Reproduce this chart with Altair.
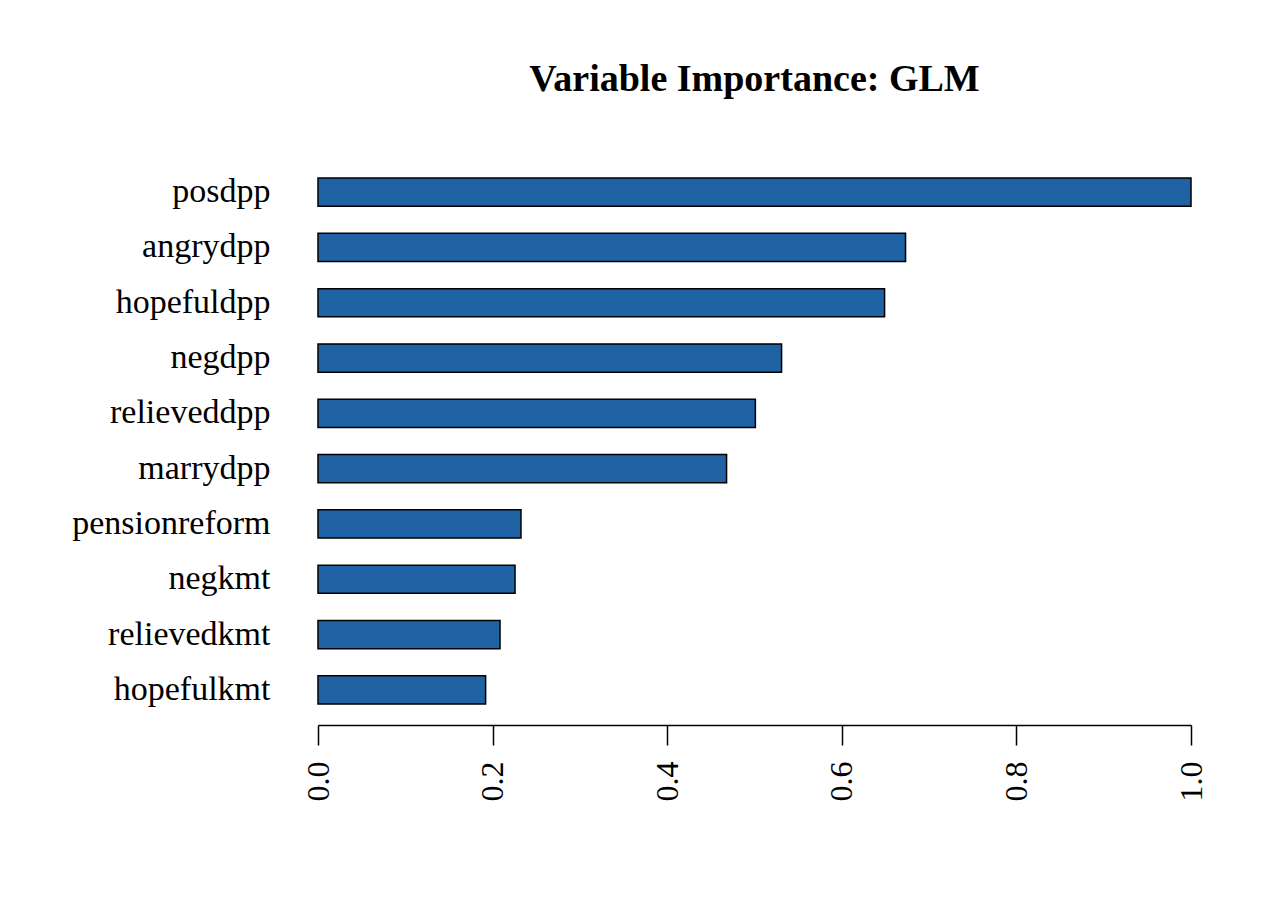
import altair as alt
import pandas as pd

variables = ["posdpp", "angrydpp", "hopefuldpp", "negdpp", "relieveddpp",
             "marrydpp", "pensionreform", "negkmt", "relievedkmt", "hopefulkmt"]
importance = [1.0, 0.673, 0.649, 0.531, 0.501, 0.468, 0.2325, 0.2257, 0.2085, 0.192]
x_ticks = [0.0, 0.2, 0.4, 0.6, 0.8, 1.0]

df = pd.DataFrame({"variable": variables, "importance": importance})

FONT = "Liberation Serif"

chart = alt.Chart(df).mark_bar(
    color="#1F63A5", stroke="black", strokeWidth=1.5
).encode(
    x=alt.X("importance:Q",
            scale=alt.Scale(domain=[0, 1], nice=False, zero=True),
            axis=alt.Axis(values=x_ticks, format=".1f", title=None,
                          labelAngle=270, labelAlign="right", labelBaseline="middle",
                          labelPadding=16, tickSize=20, tickColor="black",
                          domainColor="black", tickWidth=1.5, domainWidth=1.5,
                          grid=False, labelFont=FONT, labelFontSize=32,
                          labelColor="black")),
    y=alt.Y("variable:N", sort=variables,
            scale=alt.Scale(paddingInner=0.49, paddingOuter=0.38),
            axis=alt.Axis(title=None, ticks=False, domain=False, grid=False,
                          labelPadding=48, labelFont=FONT, labelFontSize=34,
                          labelColor="black", labelLimit=400)),
).properties(
    width=873,
    height=568,
    title=alt.TitleParams("Variable Importance: GLM", font=FONT, fontSize=38,
                          fontWeight="bold", color="black", anchor="middle",
                          offset=58),
    autosize=alt.AutoSizeParams(type="none"),
    padding={"left": 310, "top": 149, "right": 70, "bottom": 180},
).configure_view(stroke=None)

chart.save("out.html", embed_options={"renderer": "svg", "actions": False})
